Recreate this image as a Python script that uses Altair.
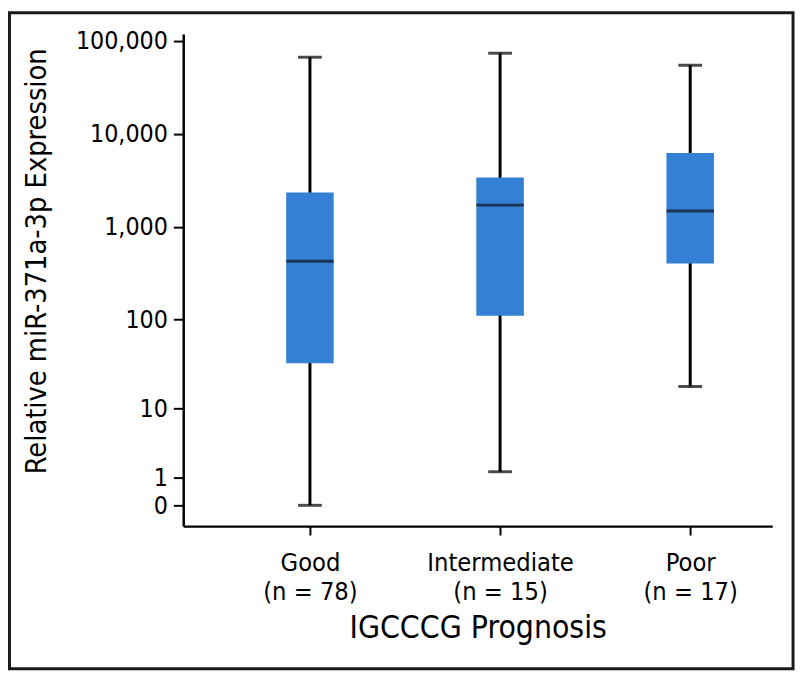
import altair as alt
import pandas as pd

categories = ["Good", "Intermediate", "Poor"]
n_counts = [78, 15, 17]
whisker_low = [0, 1.3, 18]
q1 = [33, 109, 400]
median = [425, 1710, 1480]
q3 = [2340, 3400, 6240]
whisker_high = [67000, 74000, 55000]

y_ticks = [0, 1, 10, 100, 1000, 10000, 100000]

df = pd.DataFrame({
    "cat": [f"{c}|(n = {n})" for c, n in zip(categories, n_counts)],
    "lo": whisker_low,
    "q1": q1,
    "med": median,
    "q3": q3,
    "hi": whisker_high,
})

FONT = "DejaVu Sans Condensed, Liberation Sans Narrow, DejaVu Sans"
BOX = "#3480d4"

xenc = alt.X(
    "cat:N",
    sort=None,
    title="IGCCCG Prognosis",
    scale=alt.Scale(type="point", padding=0.549, align=0.607),
    axis=alt.Axis(
        labelExpr="split(datum.label, '|')",
        labelAngle=0,
        labelFontSize=25.5,
        labelLineHeight=29,
        labelPadding=16,
        tickSize=9,
        tickWidth=2,
        domainWidth=2.5,
        titleFontSize=32,
        titlePadding=8,
        titleFontWeight="normal",
    ),
)

yscale = alt.Scale(type="symlog", constant=1, domain=[-0.675, 118800], nice=False)

yaxis = alt.Axis(
    values=y_ticks,
    labelExpr="format(datum.value, ',')",
    tickSize=10,
    tickWidth=2,
    domainWidth=2.5,
    labelPadding=6,
    labelFontSize=25,
    grid=False,
    titleFontSize=29,
    titleFontWeight="normal",
    titleX=-133,
    titleY=229,
)

base = alt.Chart(df)

whisker = base.mark_rule(color="black", strokeWidth=3).encode(
    x=xenc,
    y=alt.Y("lo:Q", scale=yscale, axis=yaxis, title="Relative miR-371a-3p Expression"),
    y2="hi:Q",
)

box = base.mark_bar(size=48, color=BOX).encode(
    x=xenc,
    y=alt.Y("q1:Q", scale=yscale),
    y2="q3:Q",
)

med = base.mark_tick(size=48, thickness=3, color="#0d1220").encode(
    x=xenc,
    y=alt.Y("med:Q", scale=yscale),
)

cap_lo = base.mark_tick(size=24, thickness=3, color="black").encode(
    x=xenc,
    y=alt.Y("lo:Q", scale=yscale),
)

cap_hi = base.mark_tick(size=24, thickness=3, color="black").encode(
    x=xenc,
    y=alt.Y("hi:Q", scale=yscale),
)

frame = alt.Chart(pd.DataFrame({"a": [0]})).mark_rect(
    fill=None, stroke="#1a1a1a", strokeWidth=3
).encode(
    x=alt.value(-175.5), x2=alt.value(616), y=alt.value(-21.5), y2=alt.value(641)
)

chart = alt.layer(whisker, box, med, cap_lo, cap_hi, frame).properties(
    width=595,
    height=497,
    autosize=alt.AutoSizeParams(type="none"),
    padding={"left": 177, "top": 23, "right": 25, "bottom": 147},
).configure_view(stroke=None).configure_axis(
    labelFont=FONT,
    titleFont=FONT,
    labelColor="black",
    titleColor="black",
    domainColor="black",
    tickColor="black",
)

chart.save("out.html", embed_options={"renderer": "svg", "actions": False})
